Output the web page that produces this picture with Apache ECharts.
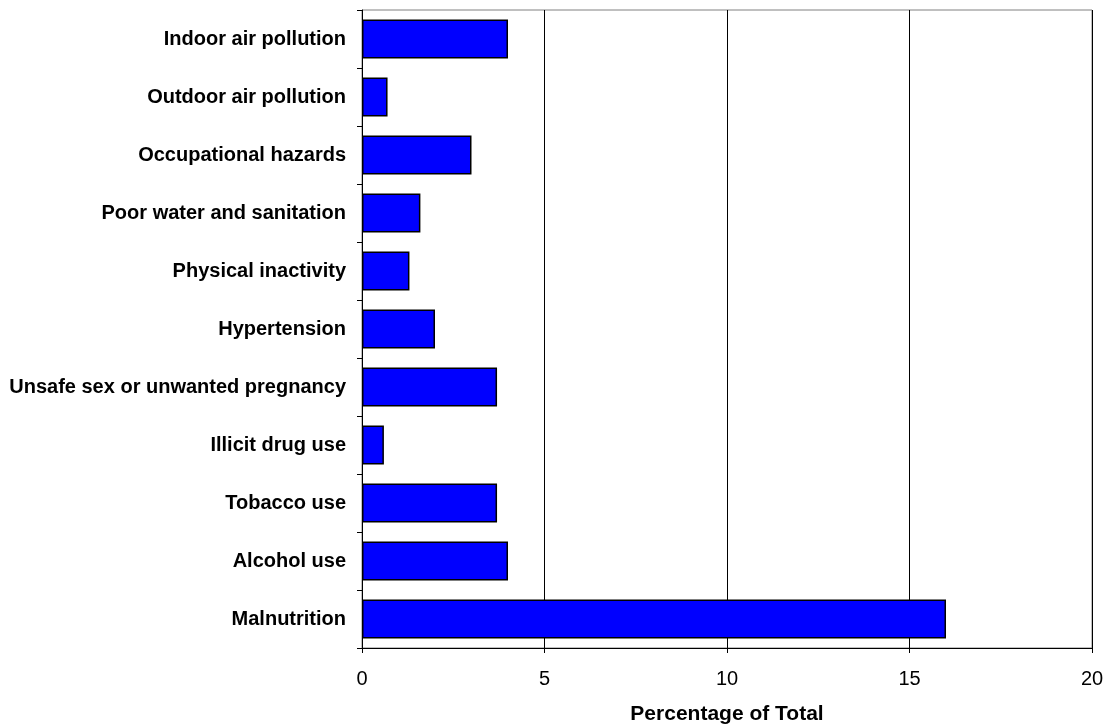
<!DOCTYPE html>
<html><head><meta charset="utf-8">
<script src="https://cdn.jsdelivr.net/npm/echarts@6/dist/echarts.min.js"></script>
<style>html,body{margin:0;padding:0;background:#fff}#c{width:1105px;height:725px}</style>
</head><body><div id="c"></div>
<script>
const categories = ["Indoor air pollution","Outdoor air pollution","Occupational hazards","Poor water and sanitation","Physical inactivity","Hypertension","Unsafe sex or unwanted pregnancy","Illicit drug use","Tobacco use","Alcohol use","Malnutrition"];
const values = [4.0,0.7,3.0,1.6,1.3,2.0,3.7,0.6,3.7,4.0,16.0];
const xTicks = [0,5,10,15,20];
const xName = "Percentage of Total";

const chart = echarts.init(document.getElementById('c'), null, {renderer:'canvas'});
chart.setOption({
  animation:false,
  grid:{left:362,top:10,width:730,height:638,show:true,borderColor:'#808080',borderWidth:1,
    containLabel:false,outerBoundsMode:'none'},
  xAxis:{type:'value',min:xTicks[0],max:xTicks[xTicks.length-1],interval:5,
    name:xName,nameLocation:'middle',nameGap:56,
    nameTextStyle:{fontFamily:'Liberation Sans',fontWeight:'bold',fontSize:21,color:'#000'},
    axisLine:{show:true,lineStyle:{color:'#000',width:1}},
    axisTick:{show:true,length:5,lineStyle:{color:'#000'}},
    axisLabel:{fontFamily:'Liberation Sans',fontSize:20,color:'#000',margin:21},
    splitLine:{show:true,lineStyle:{color:'#000',width:1}}},
  yAxis:{type:'category',data:categories,inverse:true,
    axisLine:{show:true,lineStyle:{color:'#000',width:1}},
    axisTick:{show:true,length:5,lineStyle:{color:'#000'}},
    axisLabel:{fontFamily:'Liberation Sans',fontWeight:'bold',fontSize:20,color:'#000',margin:16}},
  series:[{type:'bar',data:values,barCategoryGap:'33%',
    itemStyle:{color:'#0000FF',borderColor:'#000',borderWidth:1.5}}]
});
</script></body></html>
